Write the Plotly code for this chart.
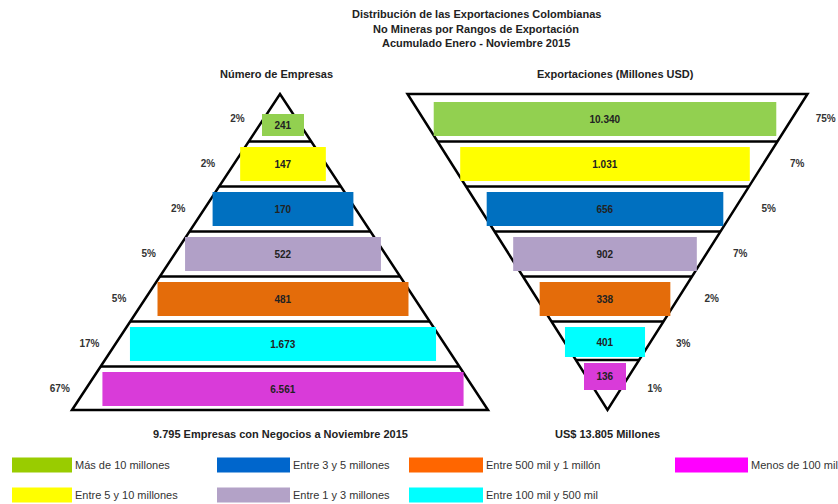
import plotly.graph_objects as go

# ---------------- data ----------------
categories = ["Más de 10 millones", "Entre 5 y 10 millones", "Entre 3 y 5 millones",
              "Entre 1 y 3 millones", "Entre 500 mil y 1 millón",
              "Entre 100 mil y 500 mil", "Menos de 100 mil"]
empresas = [241, 147, 170, 522, 481, 1673, 6561]
empresas_pct = [2, 2, 2, 5, 5, 17, 67]
exportaciones = [10340, 1031, 656, 902, 338, 401, 136]
exportaciones_pct = [75, 7, 5, 7, 2, 3, 1]
total_empresas = 9795
total_exportaciones = 13805

bar_colors = ["#92D050", "#FFFF00", "#0070C0", "#B1A0C7", "#E46C0A", "#00FFFF", "#D93BD9"]
legend_colors = ["#99CC00", "#FFFF00", "#0066CC", "#B3A2C7", "#FF6600", "#00FFFF", "#FF00FF"]

title_lines = ["Distribución de las Exportaciones Colombianas",
               "No Mineras por Rangos de Exportación",
               "Acumulado Enero - Noviembre 2015"]
left_title = "Número de Empresas"
right_title = "Exportaciones (Millones USD)"


def fmt(v):
    return f"{v:,}".replace(",", ".")


# ---------------- geometry (layout units = pixels) ----------------
W, H = 838, 504
n = len(categories)
ROW0, PITCH = 119, 45
TOP, BOTTOM = 94, 410
L_APEX_X, L_HALF = 280, 208
R_CX, R_HALF = 607.5, 200
L_BAR_CX, R_BAR_CX = 283, 605
BAR_T = 34
MIN_T = 27
GAP = 6
APEX_CLEAR = 20
FILL = 0.93
MIN_W = 42

rows = [ROW0 + PITCH * i for i in range(n)]


def left_hw(y):
    return L_HALF * (y - TOP) / (BOTTOM - TOP)


def right_hw(y):
    return R_HALF * (BOTTOM - y) / (BOTTOM - TOP)


FONT = "Liberation Sans, Arial, sans-serif"
fig = go.Figure()

# triangles (below the bars)
shapes = [
    dict(type="path", xref="x", yref="y", layer="below",
         path=f"M {L_APEX_X - L_HALF} {BOTTOM} L {L_APEX_X} {TOP} L {L_APEX_X + L_HALF} {BOTTOM} Z",
         line=dict(color="black", width=2.5), fillcolor="rgba(0,0,0,0)"),
    dict(type="path", xref="x", yref="y", layer="below",
         path=f"M {R_CX - R_HALF} {TOP} L {R_CX + R_HALF} {TOP} L {R_CX} {BOTTOM} Z",
         line=dict(color="black", width=2.5), fillcolor="rgba(0,0,0,0)"),
]

# left bars: keep clear of the apex by trimming the top
l_top = [max(y - BAR_T / 2, TOP + APEX_CLEAR) for y in rows]
l_bot = [y + BAR_T / 2 for y in rows]

# right bars: keep clear of the apex, compressing the rows near it
r_bot = [min(y + BAR_T / 2, BOTTOM - APEX_CLEAR) for y in rows]
r_top = [min(y - BAR_T / 2, b - MIN_T) for y, b in zip(rows, r_bot)]
for i in range(n - 2, -1, -1):
    r_bot[i] = min(r_bot[i], r_top[i + 1] - GAP)

# separators in the middle of the gaps
sx, sy = [], []
for i in range(n - 1):
    yl = (l_bot[i] + l_top[i + 1]) / 2
    yr = (r_bot[i] + r_top[i + 1]) / 2
    sx += [L_APEX_X - left_hw(yl), L_APEX_X + left_hw(yl), None,
           R_CX - right_hw(yr), R_CX + right_hw(yr), None]
    sy += [yl, yl, None, yr, yr, None]
fig.add_trace(go.Scatter(x=sx, y=sy, mode="lines",
                         line=dict(color="black", width=2.5), hoverinfo="skip"))

for top, bot, hw, cx, vals in [(l_top, l_bot, left_hw, L_BAR_CX, empresas),
                                (r_top, r_bot, right_hw, R_BAR_CX, exportaciones)]:
    cy = [(a + b) / 2 for a, b in zip(top, bot)]
    th = [b - a for a, b in zip(top, bot)]
    widths = [max(MIN_W, FILL * 2 * hw(y)) for y in cy]
    fig.add_trace(go.Bar(
        orientation="h", y=cy, x=widths, base=[cx - w / 2 for w in widths],
        width=th, marker=dict(color=bar_colors, line=dict(width=0)),
        text=[fmt(v) for v in vals], textposition="inside",
        insidetextanchor="middle", textangle=0, constraintext="none",
        textfont=dict(family=FONT, size=10, color="#222222", weight="bold"),
        hoverinfo="skip"))

# percentage labels
fig.add_trace(go.Scatter(
    x=[L_APEX_X - left_hw(y) - 26 for y in rows], y=rows, mode="text",
    text=[f"{p}%" for p in empresas_pct],
    textfont=dict(family=FONT, size=10, color="#333333", weight="bold"),
    hoverinfo="skip"))
fig.add_trace(go.Scatter(
    x=[R_CX + right_hw(y) + 34 for y in rows], y=rows, mode="text",
    text=[f"{p}%" for p in exportaciones_pct],
    textfont=dict(family=FONT, size=10, color="#333333", weight="bold"),
    hoverinfo="skip"))

annotations = []
for k, t in enumerate(title_lines):
    annotations.append(dict(x=476, y=14 + 14.5 * k, text=f"<b>{t}</b>", showarrow=False,
                            font=dict(family=FONT, size=11, color="#222222")))
annotations.append(dict(x=L_APEX_X - 4, y=74, text=f"<b>{left_title}</b>", showarrow=False,
                        font=dict(family=FONT, size=11, color="#222222")))
annotations.append(dict(x=R_CX + 8, y=74, text=f"<b>{right_title}</b>", showarrow=False,
                        font=dict(family=FONT, size=11, color="#222222")))
annotations.append(dict(x=L_APEX_X, y=434,
                        text=f"<b>{fmt(total_empresas)} Empresas con Negocios a Noviembre 2015</b>",
                        showarrow=False, font=dict(family=FONT, size=11, color="#222222")))
annotations.append(dict(x=R_CX, y=434, text=f"<b>US$ {fmt(total_exportaciones)} Millones</b>",
                        showarrow=False, font=dict(family=FONT, size=11, color="#222222")))

# legend (manual grid)
col_x = [12, 217, 409, 675]
sw_w = [60, 73, 74, 73]
row_y = [465, 495]
SW_H = 15
for i, (cat, col) in enumerate(zip(categories, legend_colors)):
    c, r = i // 2, i % 2
    x0 = col_x[c]
    y0 = row_y[r]
    shapes.append(dict(type="rect", xref="x", yref="y", x0=x0, x1=x0 + sw_w[c],
                       y0=y0 - SW_H / 2, y1=y0 + SW_H / 2, fillcolor=col,
                       line=dict(width=0), layer="above"))
    annotations.append(dict(x=x0 + sw_w[c] + 1, y=y0, text=cat, showarrow=False,
                            xanchor="left", font=dict(family=FONT, size=11, color="#333333")))

fig.update_layout(
    width=W, height=H, margin=dict(l=0, r=0, t=0, b=0),
    paper_bgcolor="white", plot_bgcolor="white", showlegend=False,
    barmode="overlay",
    xaxis=dict(range=[0, W], visible=False, fixedrange=True),
    yaxis=dict(range=[H, 0], visible=False, fixedrange=True),
    annotations=annotations, shapes=shapes,
)

fig.write_html("out.html")
